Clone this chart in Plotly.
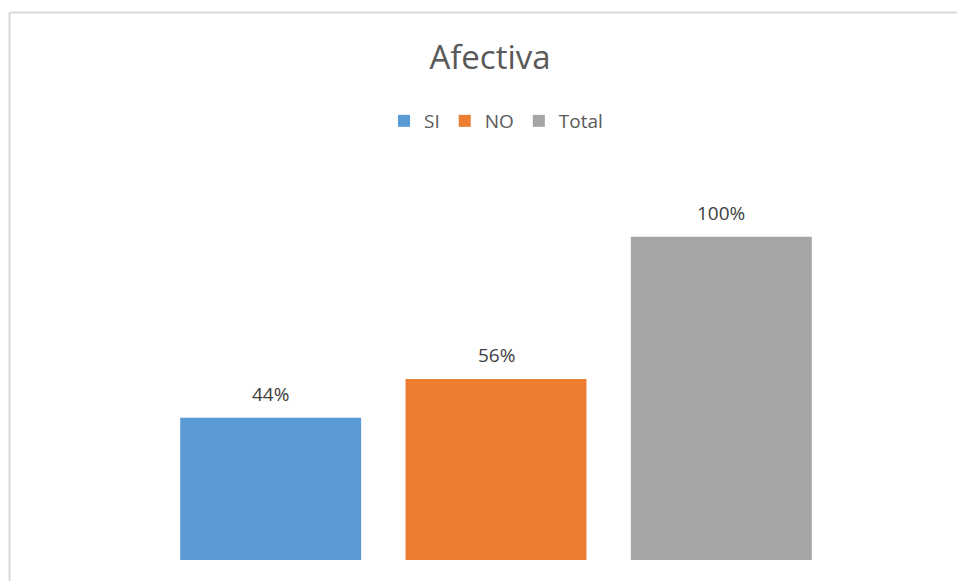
import plotly.graph_objects as go

categories = ["SI", "NO", "Total"]
values = [0.44, 0.56, 1.00]
colors = ["#5B9BD5", "#ED7D31", "#A5A5A5"]
title_text = "Afectiva"

W, H = 957, 581
L, R, T, B = 158, 123, 172, 21
pw, ph = W - L - R, H - T - B

def px_x(p):
    return (p - L) / pw

def px_y(p):
    return (H - B - p) / ph

fig = go.Figure()
for cat, val, col in zip(categories, values, colors):
    fig.add_trace(go.Bar(
        x=[cat], y=[val], name=cat,
        marker=dict(color=col, line=dict(width=0)),
    ))
    fig.add_annotation(
        x=cat, y=val, xref="x", yref="y",
        text=f"{round(val*100)}%", showarrow=False,
        yanchor="middle", yshift=24,
        font=dict(color="#404040", size=19, family="Open Sans"),
    )

border = "#D9D9D9"
fig.add_shape(type="line", xref="paper", yref="paper",
              x0=px_x(9.5), x1=px_x(9.5), y0=px_y(12.5), y1=px_y(H + 2),
              line=dict(color=border, width=2))
fig.add_shape(type="line", xref="paper", yref="paper",
              x0=px_x(9.5), x1=px_x(W + 2), y0=px_y(12.5), y1=px_y(12.5),
              line=dict(color=border, width=2))

fig.update_layout(
    width=W, height=H,
    margin=dict(l=L, r=R, t=T, b=B, pad=0),
    paper_bgcolor="white", plot_bgcolor="white",
    barmode="overlay", bargap=0.197,
    font=dict(family="Open Sans", color="#595959"),
    title=dict(text=title_text, x=490 / W, xanchor="center",
               y=1 - 57 / H, yanchor="middle",
               font=dict(size=33, color="#595959", family="Open Sans")),
    showlegend=True,
    legend=dict(orientation="h", x=0.5, xanchor="center",
                y=px_y(121), yanchor="middle",
                font=dict(size=19, color="#595959", family="Open Sans"),
                itemwidth=30, traceorder="normal"),
    xaxis=dict(showticklabels=False, showgrid=False, zeroline=False,
               showline=False, ticks=""),
    yaxis=dict(range=[0, 1.2], visible=False),
)

fig.write_html("out.html", config={"displayModeBar": False},
               post_script="document.body.style.margin='0';")
